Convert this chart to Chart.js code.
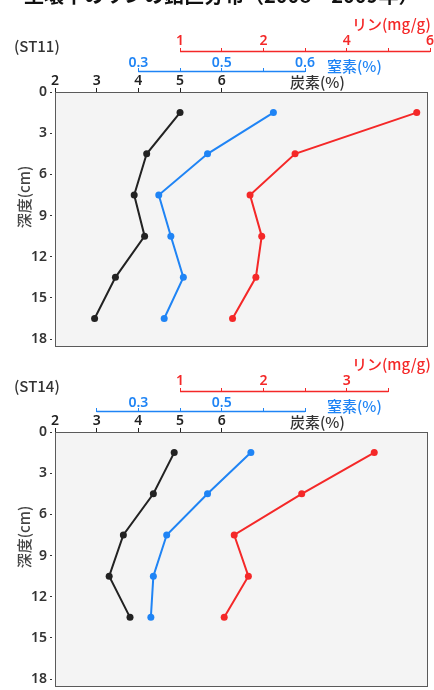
<!DOCTYPE html>
<html>
<head>
<meta charset="utf-8">
<script src="https://cdn.jsdelivr.net/npm/chart.js@4"></script>
<style>
  body { margin: 0; background: #fff; width: 434px; height: 690px; overflow: hidden; }
  canvas { display: block; }
</style>
</head>
<body>
<canvas id="st11Chart" width="434" height="350"></canvas>
<canvas id="st14Chart" width="434" height="340"></canvas>
<script>
// sampling depths (cm)
const depthsST11 = [1.5, 4.5, 7.5, 10.5, 13.5, 16.5];
const depthsST14 = [1.5, 4.5, 7.5, 10.5, 13.5];

// ST11 profiles
const carbonST11 = [5.0, 4.2, 3.9, 4.15, 3.45, 2.95];
const nitrogenST11 = [0.624, 0.466, 0.349, 0.378, 0.408, 0.362];
const phosphorusST11 = [3.84, 2.38, 1.84, 1.98, 1.91, 1.63];

// ST14 profiles
const carbonST14 = [4.86, 4.36, 3.64, 3.30, 3.80];
const nitrogenST14 = [0.570, 0.466, 0.368, 0.336, 0.330];
const phosphorusST14 = [3.33, 2.46, 1.65, 1.82, 1.53];

// tick values and labels
const depthTicks = [0, 3, 6, 9, 12, 15, 18];
const carbonTicks = [2, 3, 4, 5, 6];
const carbonLabels = ['2', '3', '4', '5', '6'];
const nitrogenTicksST11 = [0.3, 0.4, 0.5, 0.6, 0.7];
const nitrogenLabelsST11 = ['0.3', '', '0.5', '', '0.6'];
const nitrogenTicksST14 = [0.2, 0.3, 0.4, 0.5, 0.6, 0.7];
const nitrogenLabelsST14 = ['', '0.3', '', '0.5', '', ''];
const phosphorusTicksST11 = [1, 1.5, 2, 2.5, 3, 3.5, 4];
const phosphorusLabelsST11 = ['1', '', '2', '', '4', '', '6'];
const phosphorusTicksST14 = [1, 1.5, 2, 2.5, 3, 3.5];
const phosphorusLabelsST14 = ['1', '', '2', '', '3', ''];

const BLACK = '#222222';
const BLUE = '#1f84f5';
const RED = '#f42828';
const tickFont = { family: "'Noto Sans', sans-serif", size: 14, weight: '600', lineHeight: 1 };
const jpFont = "'Noto Sans CJK JP', sans-serif";

function topAxis(ticks, labels, min, max, color, weight, height, pad) {
  return {
    type: 'linear',
    position: 'top',
    min: min,
    max: max,
    weight: weight,
    afterBuildTicks: s => { s.ticks = ticks.map(v => ({ value: v })); },
    afterFit: s => { s.height = height; s.paddingLeft = 0; s.paddingRight = 0; },
    ticks: {
      autoSkip: false, maxRotation: 0, padding: pad, color: color, font: tickFont,
      callback: (v, i) => labels[i]
    },
    grid: { drawOnChartArea: false, drawTicks: true, tickLength: 4, tickColor: color, tickWidth: 1 },
    border: { display: false }
  };
}

// plot background, frame, partial axis lines and the texts around the plot
const decorPlugin = {
  id: 'decor',
  beforeDraw(chart) {
    const { ctx, chartArea: a } = chart;
    ctx.save();
    ctx.fillStyle = '#f4f4f4';
    ctx.fillRect(a.left, a.top, a.right - a.left, a.bottom - a.top);
    ctx.strokeStyle = '#5a5a5a';
    ctx.lineWidth = 1;
    ctx.strokeRect(a.left + 0.5, a.top + 0.5, a.right - a.left - 1, a.bottom - a.top);
    ctx.restore();
  },
  afterDraw(chart, args, opts) {
    const { ctx, chartArea: a } = chart;
    const T = a.top;
    ctx.save();
    ['xN', 'xP'].forEach(id => {
      const s = chart.scales[id];
      const t = s.ticks;
      ctx.strokeStyle = id === 'xN' ? BLUE : RED;
      ctx.lineWidth = 1.5;
      ctx.beginPath();
      ctx.moveTo(s.getPixelForValue(t[0].value), s.bottom - 0.5);
      ctx.lineTo(s.getPixelForValue(t[t.length - 1].value), s.bottom - 0.5);
      ctx.stroke();
    });

    ctx.textBaseline = 'middle';
    ctx.textAlign = 'left';
    ctx.font = '500 15px ' + jpFont;
    ctx.fillStyle = '#333';
    ctx.fillText('炭素(%)', 290, T - 10);
    ctx.fillStyle = BLUE;
    ctx.fillText('窒素(%)', 327, T - 26);
    ctx.fillStyle = RED;
    ctx.fillText('リン(mg/g)', 352, T - 68);
    ctx.fillStyle = '#333';
    ctx.fillText(opts.station, 14, T - 46);

    ctx.save();
    ctx.translate(24, T + 105);
    ctx.rotate(-Math.PI / 2);
    ctx.textAlign = 'center';
    ctx.fillStyle = '#444';
    ctx.fillText('深度(cm)', 0, 0);
    ctx.restore();

    if (opts.heading) {
      ctx.font = 'bold 20px ' + jpFont;
      ctx.fillStyle = '#111';
      ctx.textBaseline = 'alphabetic';
      ctx.fillText(opts.heading, 24, 3);
    }
    ctx.restore();
  }
};

function line(values, depths, axisId, color) {
  return {
    data: depths.map((d, i) => ({ x: values[i], y: d })),
    xAxisID: axisId,
    yAxisID: 'y',
    showLine: true,
    borderColor: color,
    backgroundColor: color,
    borderWidth: 2,
    pointRadius: 3.5,
    pointBorderWidth: 0,
    tension: 0
  };
}

function makeChart(canvasId, st, padTop, padBottom) {
  new Chart(document.getElementById(canvasId), {
    type: 'scatter',
    data: {
      datasets: [
        line(st.carbon, st.depths, 'xC', BLACK),
        line(st.nitrogen, st.depths, 'xN', BLUE),
        line(st.phosphorus, st.depths, 'xP', RED)
      ]
    },
    options: {
      responsive: false,
      animation: false,
      devicePixelRatio: 1,
      layout: { padding: { top: padTop, bottom: padBottom, left: 0, right: 6 } },
      plugins: {
        legend: { display: false },
        tooltip: { enabled: false },
        decor: { station: st.station, heading: st.heading }
      },
      scales: {
        xC: topAxis(carbonTicks, carbonLabels, 2, 10.95, BLACK, 0, 20, 0),
        xN: topAxis(st.nTicks, st.nLabels, 0.1, 0.995, BLUE, 1, 20, -2),
        xP: topAxis(st.pTicks, st.pLabels, -0.5, 3.975, RED, 2, 22, 0),
        y: {
          type: 'linear',
          position: 'left',
          reverse: true,
          min: 0,
          max: 18.5,
          afterBuildTicks: s => { s.ticks = depthTicks.map(v => ({ value: v })); },
          afterFit: s => { s.width = 55; s.paddingTop = 0; s.paddingBottom = 0; },
          ticks: { autoSkip: false, padding: 3, color: '#333', font: tickFont },
          grid: { drawOnChartArea: false, tickLength: 5, tickColor: '#333', tickBorderDash: [2, 3] },
          border: { display: false }
        }
      }
    },
    plugins: [decorPlugin]
  });
}

makeChart('st11Chart', {
  station: '(ST11)', heading: '土壌中のリンの鉛直分布（2008～2009年）',
  depths: depthsST11, carbon: carbonST11, nitrogen: nitrogenST11, phosphorus: phosphorusST11,
  nTicks: nitrogenTicksST11, nLabels: nitrogenLabelsST11,
  pTicks: phosphorusTicksST11, pLabels: phosphorusLabelsST11
}, 30, 2);

makeChart('st14Chart', {
  station: '(ST14)', heading: null,
  depths: depthsST14, carbon: carbonST14, nitrogen: nitrogenST14, phosphorus: phosphorusST14,
  nTicks: nitrogenTicksST14, nLabels: nitrogenLabelsST14,
  pTicks: phosphorusTicksST14, pLabels: phosphorusLabelsST14
}, 20, 0);
</script>
</body>
</html>
